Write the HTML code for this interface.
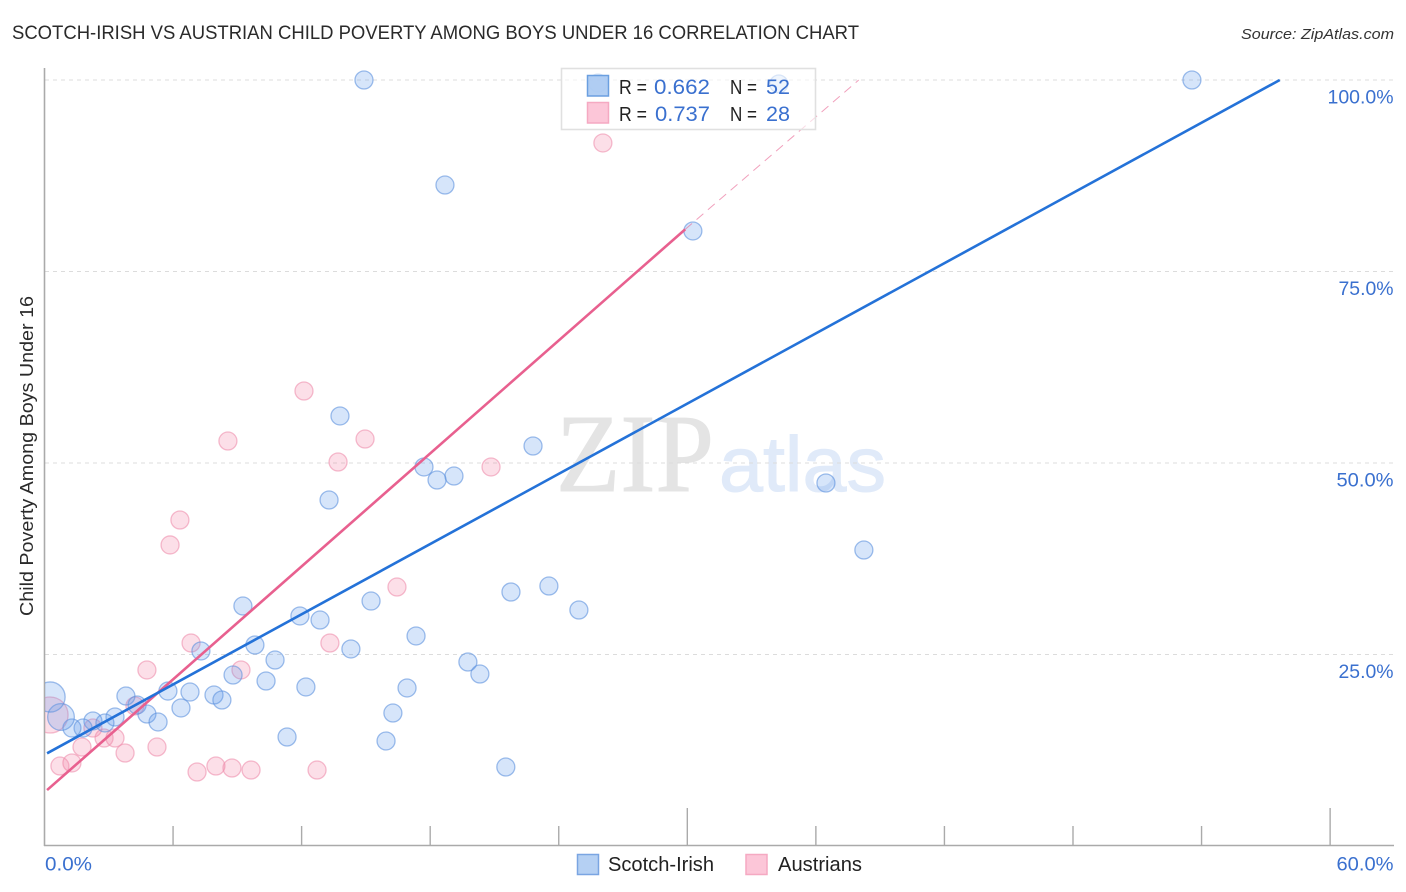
<!DOCTYPE html>
<html>
<head>
<meta charset="utf-8">
<title>Scotch-Irish vs Austrian Child Poverty Chart</title>
<style>
html,body{margin:0;padding:0;background:#fff;width:1406px;height:892px;overflow:hidden}
svg{display:block;font-family:"Liberation Sans",sans-serif}
</style>
</head>
<body>
<svg id="chart" width="1406" height="892" viewBox="0 0 1406 892" xmlns="http://www.w3.org/2000/svg">
  <defs>
    <clipPath id="plot-clip"><rect x="45" y="60" width="1349" height="786"/></clipPath>
  </defs>
  <text x="12" y="39" font-size="19" fill="#2a2a2a" textLength="847" lengthAdjust="spacingAndGlyphs">SCOTCH-IRISH VS AUSTRIAN CHILD POVERTY AMONG BOYS UNDER 16 CORRELATION CHART</text>
  <text x="1241" y="39" font-size="15" font-style="italic" fill="#333" textLength="153" lengthAdjust="spacingAndGlyphs">Source: ZipAtlas.com</text>

  <g>
    <text x="556" y="491" font-family="'Liberation Serif',serif" font-size="111" fill="#e4e4e4" stroke="#e4e4e4" stroke-width="1" textLength="158" lengthAdjust="spacingAndGlyphs">ZIP</text>
    <text x="719" y="491" font-size="78" fill="#e0eaf9" stroke="#e0eaf9" stroke-width="1" textLength="167" lengthAdjust="spacingAndGlyphs">atlas</text>
  </g>

  <g id="grid"></g>
  <g id="axes"></g>
  <g id="marks" clip-path="url(#plot-clip)"></g>
  <g id="trends" clip-path="url(#plot-clip)"></g>
  <g id="labels"></g>

  <text transform="translate(33,456) rotate(-90)" text-anchor="middle" font-size="18.5" fill="#2a2a2a" textLength="320" lengthAdjust="spacingAndGlyphs">Child Poverty Among Boys Under 16</text>

  <g>
    <rect x="561.5" y="68.5" width="254" height="61" fill="#fff" fill-opacity="0.62" stroke="#e0e0e0" stroke-width="1.6"/>
    <rect x="587.5" y="75.5" width="21" height="20.5" fill="#a9c9f2" fill-opacity="0.9" stroke="#6b9fe0" stroke-width="1.5"/>
    <rect x="587.5" y="102.5" width="21" height="20.5" fill="#fcc6d8" stroke="#f5a9c2" stroke-width="1.5"/>
    <text x="619" y="94" font-size="20" fill="#222" textLength="28" lengthAdjust="spacingAndGlyphs">R =</text>
    <text x="654" y="94" font-size="21" fill="#3a70cf" textLength="56" lengthAdjust="spacingAndGlyphs">0.662</text>
    <text x="730" y="94" font-size="20" fill="#222" textLength="27" lengthAdjust="spacingAndGlyphs">N =</text>
    <text x="766" y="94" font-size="21" fill="#3a70cf" textLength="24" lengthAdjust="spacingAndGlyphs">52</text>
    <text x="619" y="121" font-size="20" fill="#222" textLength="28" lengthAdjust="spacingAndGlyphs">R =</text>
    <text x="655" y="121" font-size="21" fill="#3a70cf" textLength="55" lengthAdjust="spacingAndGlyphs">0.737</text>
    <text x="730" y="121" font-size="20" fill="#222" textLength="27" lengthAdjust="spacingAndGlyphs">N =</text>
    <text x="766" y="121" font-size="21" fill="#3a70cf" textLength="24" lengthAdjust="spacingAndGlyphs">28</text>
  </g>

  <g>
    <rect x="577.5" y="854.5" width="21" height="20" fill="#b5d0f3" stroke="#7aa5e2" stroke-width="1.5"/>
    <text x="608" y="871" font-size="20" fill="#222" textLength="106" lengthAdjust="spacingAndGlyphs">Scotch-Irish</text>
    <rect x="746" y="854.5" width="21" height="20" fill="#fcc6d8" stroke="#f5a9c2" stroke-width="1.5"/>
    <text x="778" y="871" font-size="20" fill="#222" textLength="84" lengthAdjust="spacingAndGlyphs">Austrians</text>
  </g>
</svg>
<script>
var scotchIrishX = [14.91,25.83,34.27,53.55,18.69,30.26,13.79,22.80,17.71,18.32,19.11,13.28,36.47,38.24,23.54,21.77,15.24,24.94,9.26,11.92,12.86,17.34,14.30,9.82,7.30,10.76,19.76,20.32,8.80,10.34,12.20,16.92,3.80,5.76,6.79,7.91,8.28,4.32,6.37,4.78,16.26,3.29,5.30,2.26,2.82,1.80,11.32,15.94,21.53,1.28,0.77,0.26];
var scotchIrishY = [100,99.6,99.48,100,86.29,80.29,56.14,52.22,49.48,47.78,48.30,45.17,47.39,38.64,33.94,33.16,31.98,30.81,31.33,30.03,29.50,27.42,25.72,26.24,25.46,24.28,24.02,22.45,22.32,21.54,20.76,20.63,19.58,20.23,20.10,19.71,19.06,18.41,18.02,17.23,17.36,16.84,16.19,16.32,16.06,15.40,14.23,13.71,10.31,15.40,16.84,19.45];
var scotchIrishWeight = [1,1,1,1,1,1,1,1,1,1,1,1,1,1,1,1,1,1,1,1,1,1,1,1,1,1,1,1,1,1,1,1,1,1,1,1,1,1,1,1,1,1,1,1,1,1,1,1,1,1,2.2,2.8];
var austriansX = [6.84,4.78,13.32,9.17,4.22,2.26,3.29,2.78,1.75,5.25,3.76,1.28,0.72,7.12,8.00,8.75,9.64,12.72,0.26,26.06,12.11,8.56,14.96,13.70,20.84,6.32,5.86,16.45];
var austriansY = [26.50,22.98,26.50,22.98,18.28,15.40,14.10,14.10,12.92,12.92,12.14,10.84,10.44,9.66,10.44,10.18,9.92,9.92,17.10,91.78,59.40,52.87,53.13,50.13,49.48,42.56,39.30,33.81];
var austriansWeight = [1,1,1,1,1,1,1,1,1,1,1,1,1,1,1,1,1,1,4,1,1,1,1,1,1,1,1,1];
var scotchIrishTrendX = [0.12,57.65];
var scotchIrishTrendY = [12.1,100];
var austriansTrendX = [0.12,29.9];
var austriansTrendY = [7.3,80.5];
var austriansExtendX = [29.9,38.0];
var austriansExtendY = [80.5,100];
var xTickValues = [0,6,12,18,24,30,36,42,48,54,60];
var xMajorTicks = [30,60];
var xTickLabels = ["0.0%","60.0%"];
var xLabelValues = [0,60];
var yTickValues = [100,75,50,25];
var yTickLabels = ["100.0%","75.0%","50.0%","25.0%"];

var NS = "http://www.w3.org/2000/svg";
function xPx(v){ return 44.5 + v * 21.427; }
function yPx(v){ return 846 - v * 7.66; }
function make(tag, parent, attrs){
  var el = document.createElementNS(NS, tag);
  for (var k in attrs) el.setAttribute(k, attrs[k]);
  parent.appendChild(el);
  return el;
}
function fitLabel(el, text){
  var widths = {"100.0%":66,"75.0%":55,"50.0%":57,"25.0%":55,"0.0%":47,"60.0%":57};
  if (widths[text]) {
    el.setAttribute("textLength", widths[text]);
    el.setAttribute("lengthAdjust", "spacingAndGlyphs");
  }
}
var grid = document.getElementById("grid");
var axes = document.getElementById("axes");
var marks = document.getElementById("marks");
var trends = document.getElementById("trends");
var labels = document.getElementById("labels");

yTickValues.forEach(function(v, i){
  var g = make("line", grid, {x1:45, x2:1393, y1:yPx(v), y2:yPx(v), stroke:"#dcdcdc", "stroke-width":1, "stroke-dasharray":"4 4"});
  
  
  var t = make("text", labels, {x:1393.5, y:yPx(v) + 23.5, "text-anchor":"end", "font-size":19.5, fill:"#3a70cf"});
  t.textContent = yTickLabels[i];
  fitLabel(t, yTickLabels[i]);
  
  
});

var yAxis = make("line", axes, {x1:44.5, x2:44.5, y1:68, y2:846, stroke:"#aaa", "stroke-width":1.6});


var xAxis = make("line", axes, {x1:44, x2:1394, y1:845.5, y2:845.5, stroke:"#aaa", "stroke-width":1.6});



xTickValues.forEach(function(v){
  if (v === 0) return;
  var top = xMajorTicks.indexOf(v) >= 0 ? 808 : 826;
  var tick = make("line", axes, {x1:xPx(v), x2:xPx(v), y1:top, y2:845.5, stroke:"#aaa", "stroke-width":1.4});
  
  
});

xLabelValues.forEach(function(v, i){
  var attrs = v === 0
    ? {x:45, y:870.5, "text-anchor":"start", "font-size":19.5, fill:"#3a70cf"}
    : {x:1393.5, y:870.5, "text-anchor":"end", "font-size":19.5, fill:"#3a70cf"};
  var t = make("text", labels, attrs);
  t.textContent = xTickLabels[i];
  fitLabel(t, xTickLabels[i]);
  
  
});

austriansX.forEach(function(v, i){
  var c = make("circle", marks, {cx:xPx(v), cy:yPx(austriansY[i]), r:9 * Math.sqrt(austriansWeight[i]), fill:"#f27ba0", "fill-opacity":0.24, stroke:"#ee8fae", "stroke-opacity":0.6, "stroke-width":1.3});
  
  
});
scotchIrishX.forEach(function(v, i){
  var c = make("circle", marks, {cx:xPx(v), cy:yPx(scotchIrishY[i]), r:9 * Math.sqrt(scotchIrishWeight[i]), fill:"#629ceb", "fill-opacity":0.26, stroke:"#5a8fdc", "stroke-opacity":0.58, "stroke-width":1.3});
  
  
});

var pinkExt = make("line", trends, {x1:xPx(austriansExtendX[0]), y1:yPx(austriansExtendY[0]), x2:xPx(austriansExtendX[1]), y2:yPx(austriansExtendY[1]), stroke:"#e8608f", "stroke-opacity":0.6, "stroke-width":1, "stroke-dasharray":"9 6"});


var pinkLine = make("line", trends, {x1:xPx(austriansTrendX[0]), y1:yPx(austriansTrendY[0]), x2:xPx(austriansTrendX[1]), y2:yPx(austriansTrendY[1]), stroke:"#e8608f", "stroke-width":2.6});


var blueLine = make("line", trends, {x1:xPx(scotchIrishTrendX[0]), y1:yPx(scotchIrishTrendY[0]), x2:xPx(scotchIrishTrendX[1]), y2:yPx(scotchIrishTrendY[1]), stroke:"#2472d8", "stroke-width":2.6});


</script>
</body>
</html>
